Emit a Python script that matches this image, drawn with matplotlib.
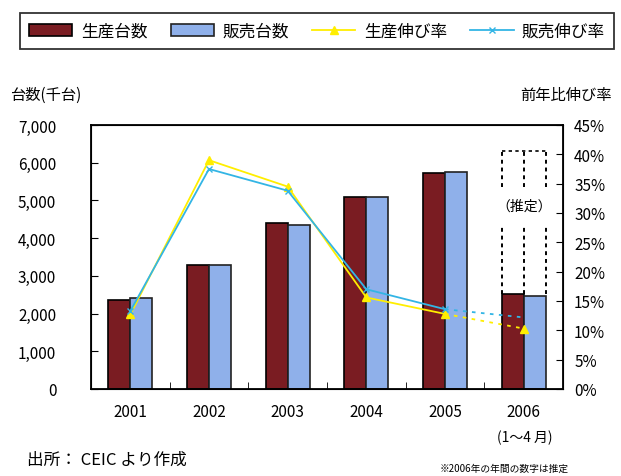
import numpy as np
import matplotlib
matplotlib.use("Agg")
import matplotlib.pyplot as plt

plt.rcParams['font.family'] = ['Noto Sans CJK JP', 'DejaVu Sans']

# data
years = ['2001', '2002', '2003', '2004', '2005', '2006']
production = [2360, 3290, 4395, 5085, 5720, 2520]      # thousand units
sales = [2410, 3290, 4340, 5085, 5765, 2460]
prod_growth = [12.7, 39.0, 34.5, 15.6, 12.8, 10.3]     # %
sales_growth = [13.3, 37.5, 33.8, 17.0, 13.6, 12.2]
estimate_top = 6300

fig = plt.figure(figsize=(6.21, 4.77), dpi=100)
ax = fig.add_axes([91/621, 1-390/477, 472/621, 264/477])
ax2 = ax.twinx()

x = np.arange(len(years))
w = 0.28
red = '#7a1c22'
blue = '#8fb0ea'
ax.bar(x - w/2, production, w, color=red, edgecolor='black', linewidth=1.2, label='生産台数')
ax.bar(x + w/2, sales, w, color=blue, edgecolor='#222222', linewidth=1.2, label='販売台数')

# estimate box above 2006 bars
xl, xr = x[5] - w, x[5] + w
for xx in (xl, x[5], xr):
    ax.plot([xx, xx], [max(production[5], sales[5]), 4330], ls=(0, (2, 2)), color='black', lw=1.4)
    ax.plot([xx, xx], [5360, estimate_top], ls=(0, (2, 2)), color='black', lw=1.4)
ax.plot([xl, xr], [estimate_top, estimate_top], ls=(0, (2, 2)), color='black', lw=1.2)
ax.text(x[5], 4860, '（推定）', ha='center', va='center', fontsize=10)

ax.set_xlim(-0.5, 5.5)
ax.set_ylim(0, 7000)
ax.set_yticks(range(0, 7001, 1000))
ax.set_yticklabels([f'{v:,}' for v in range(0, 7001, 1000)], fontsize=11)
ax.set_xticks(x)
ax.set_xticklabels(years, fontsize=11)
ax.set_xticks(x[:-1] + 0.5, minor=True)
ax.tick_params(axis='x', which='major', length=0, pad=10)
ax.tick_params(axis='x', which='minor', direction='in', length=5)
ax.tick_params(axis='y', direction='in', length=5, pad=25)
for s in ax.spines.values():
    s.set_linewidth(1.3)

# growth lines
ax2.plot(x[:5], prod_growth[:5], color='#ffee00', lw=1.3, marker='^', ms=6, mfc='#ffee00', label='生産伸び率')
ax2.plot(x[4:], prod_growth[4:], color='#ffee00', lw=1.3, ls=(0, (2, 3)), marker='^', ms=6, markevery=[1])
ax2.plot(x[:5], sales_growth[:5], color='#33b5e5', lw=1.3, marker='x', ms=4, label='販売伸び率')
ax2.plot(x[4:], sales_growth[4:], color='#33b5e5', lw=1.3, ls=(0, (2, 3)))
ax2.set_ylim(0, 45)
ax2.set_yticks(range(0, 46, 5))
ax2.set_yticklabels([f'{v}%' for v in range(0, 46, 5)], fontsize=11)
ax2.tick_params(axis='y', direction='in', length=5, pad=8)

fig.text(10/621, 1-95/477, '台数(千台)', fontsize=11, va='center')
fig.text(612/621, 1-95/477, '前年比伸び率', fontsize=11, va='center', ha='right')
fig.text(x[5] * 79/621 + 130/621, 1-438/477, '(1～4 月)', fontsize=10, ha='center', va='center')
fig.text(27/621, 1-460/477, '出所： CEIC より作成', fontsize=12, va='center')
fig.text(440/621, 1-469/477, '※2006年の年間の数字は推定', fontsize=7, va='center')

h1, l1 = ax.get_legend_handles_labels()
h2, l2 = ax2.get_legend_handles_labels()
leg = fig.legend(h1 + h2, l1 + l2, loc='center', bbox_to_anchor=(317/621, 1-32/477), ncol=4,
                 fontsize=12, frameon=True, fancybox=False, edgecolor='black',
                 handlelength=2.6, columnspacing=1.4, handletextpad=0.5, borderpad=0.55)
leg.get_frame().set_linewidth(1.3)

fig.savefig('out.png', dpi=100)
